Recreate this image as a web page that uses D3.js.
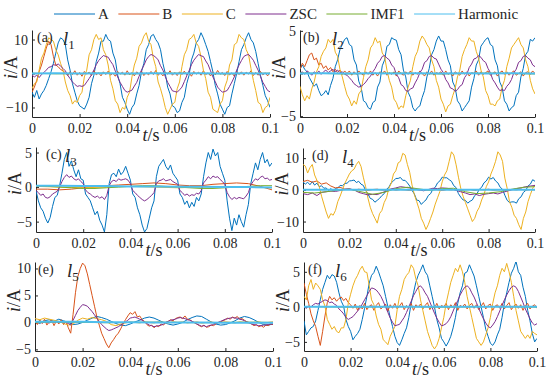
<!DOCTYPE html>
<html>
<head>
<meta charset="utf-8">
<script src="https://cdn.jsdelivr.net/npm/d3@7"></script>
<style>
  body { margin: 0; background: #fff; }
  svg { display: block; font-family: 'Liberation Serif', 'Times New Roman', 'DejaVu Serif', serif; }
</style>
</head>
<body>
<script>
var WIDTH  = 550;
var HEIGHT = 384;
var T_END  = 0.1;

var seriesNames  = ['A', 'B', 'C', 'ZSC', 'IMF1', 'Harmonic'];
var seriesColors = ['#0072bd', '#d95319', '#edb120', '#7e2f8e', '#77ac30', '#4dbeee'];
var timeTicks    = [0, 0.02, 0.04, 0.06, 0.08, 0.1];

// each series is sampled evenly over 0..0.1 s (101 points = 1 ms step)

// ---- (a) l1
var a_A = [
  -5.5, -7.0, -5.0, -7.5, -6.0, -5.0, -3.5, -1.5, 0.5, 3.0,
  6.0, 9.0, 10.5, 10.0, 8.5, 4.0, 1.0, -3.0, -5.5, -8.0,
  -9.5, -10.0, -10.5, -9.0, -7.0, -3.0, -0.5, 3.5, 6.0, 9.5,
  9.5, 11.5, 10.0, 9.5, 6.0, 4.0, -0.5, -3.0, -7.0, -8.5,
  -10.5, -12.0, -10.0, -9.0, -6.0, -3.5, 0.5, 3.0, 7.0, 8.5,
  11.0, 11.5, 10.0, 9.0, 7.0, 3.0, 0.0, -4.0, -6.0, -9.5,
  -10.0, -11.5, -11.0, -8.5, -7.0, -3.0, -0.5, 4.0, 6.0, 9.0,
  10.0, 12.0, 10.5, 8.5, 6.5, 3.5, 0.5, -3.5, -6.0, -9.0,
  -10.5, -12.0, -10.0, -9.5, -6.0, -3.0, 0.0, 3.5, 7.0, 8.5,
  10.5, 12.0, 10.0, 9.0, 6.5, 3.0, -0.5, -3.5, -6.5, -8.0,
  -10.0];
var a_B = [
  -5.5, -4.0, -2.0, 0.5, 2.5, 5.0, 7.5, 9.5, 8.5, 5.0,
  2.5, 2.0, 1.2, 0.8, 0.2, -0.6, 0.5, -0.3, 0.8, -0.5,
  0.3, -0.8, 0.6, -0.2, 0.4, -0.6, 0.9, -0.4, 0.2, -0.7,
  0.5, -0.3, 0.7, -0.5, 0.1, -0.8, 0.6, -0.2, 0.4, -0.5,
  0.8, -0.4, 0.3, -0.7, 0.5, -0.2, 0.7, -0.6, 0.2, -0.4,
  0.6, -0.3, 0.9, -0.5, 0.2, -0.7, 0.4, -0.2, 0.8, -0.5,
  0.3, -0.6, 0.5, -0.3, 0.7, -0.4, 0.2, -0.8, 0.6, -0.2,
  0.4, -0.5, 0.8, -0.3, 0.2, -0.7, 0.5, -0.4, 0.9, -0.2,
  0.3, -0.6, 0.6, -0.4, 0.2, -0.8, 0.7, -0.3, 0.5, -0.5,
  0.4, -0.2, 0.8, -0.6, 0.3, -0.5, 0.6, -0.4, 0.2, -0.7,
  0.3];
var a_C = [
  -4.5, -3.0, -2.5, 1.0, 4.5, 6.0, 8.5, 10.5, 10.0, 9.5,
  7.0, 5.5, 3.0, 1.0, -2.5, -5.0, -6.5, -9.0, -8.0, -8.5,
  -6.5, -5.5, -1.0, 1.0, 5.5, 7.0, 10.0, 11.5, 10.0, 10.5,
  7.0, 5.5, 2.5, -2.0, -4.5, -8.0, -9.0, -11.5, -10.0, -10.5,
  -7.0, -5.5, -1.0, 2.5, 4.5, 8.0, 9.0, 11.0, 12.0, 9.5,
  8.5, 4.5, 2.0, -2.5, -4.5, -7.0, -10.0, -12.0, -10.5, -9.0,
  -8.5, -4.5, -2.5, 2.0, 5.5, 7.0, 10.0, 10.5, 11.5, 9.0,
  8.0, 5.0, 1.0, -1.5, -5.5, -7.0, -10.5, -11.0, -11.5, -9.0,
  -8.0, -4.0, -2.0, 2.5, 4.0, 8.5, 9.0, 11.5, 10.5, 10.0,
  7.0, 5.5, 1.5, -2.0, -5.0, -8.5, -9.0, -11.5, -10.0, -9.5,
  -7.0];
var a_ZSC = [
  -0.5, -1.0, -0.5, -1.2, -0.3, 0.3, 1.0, 1.8, 2.0, 2.6,
  2.4, 2.8, 2.2, 1.5, 0.8, -0.5, -1.5, -2.5, -3.2, -3.8,
  -3.6, -3.8, -3.5, -2.5, -1.5, -0.4, 1.0, 2.6, 3.8, 4.6,
  5.3, 5.0, 4.8, 3.6, 2.6, 0.7, -1.0, -2.6, -3.8, -5.0,
  -5.5, -5.2, -4.9, -3.7, -2.6, -0.8, 1.0, 2.4, 4.0, 5.0,
  5.6, 5.3, 4.8, 4.0, 2.3, 1.0, -0.9, -2.6, -3.8, -5.1,
  -5.3, -5.5, -4.8, -4.0, -2.4, -0.7, 0.8, 2.6, 3.9, 4.8,
  5.6, 5.2, 5.0, 3.7, 2.6, 0.8, -1.0, -2.4, -4.0, -4.8,
  -5.5, -5.3, -5.0, -3.8, -2.5, -1.0, 1.0, 2.5, 3.8, 5.0,
  5.4, 5.6, 4.8, 3.9, 2.4, 1.0, -0.9, -2.6, -3.8, -5.0,
  -5.4];
var a_IMF1 = [0.1, -0.1, 0.0, 0.1, -0.1, 0.0, 0.1, 0.0, -0.1, 0.0, 0.1];
var a_Harm = [0.0, 0.05, 0.0, 0.05, 0.0, 0.05, 0.0, 0.05, 0.0, 0.05, 0.0];

// ---- (b) l2
var b_A = [
  0.5, 1.0, 0.5, 0.2, -0.5, -1.0, -1.5, -1.2, -2.0, -2.6,
  -2.4, -2.0, -2.5, -1.4, -0.6, 0.8, 1.6, 2.8, 3.4, 4.0,
  4.2, 3.4, 3.2, 1.6, 1.0, -0.9, -1.6, -3.2, -3.4, -4.0,
  -4.2, -3.4, -3.2, -1.6, -1.0, 0.9, 1.6, 3.2, 3.4, 4.2,
  4.0, 3.9, 2.8, 2.2, 0.4, -0.4, -2.2, -2.8, -4.0, -4.4,
  -4.0, -3.8, -2.8, -2.0, -0.4, 0.6, 2.2, 2.8, 3.8, 4.4,
  3.8, 3.8, 2.8, 1.6, 0.9, -1.0, -1.6, -3.2, -3.6, -4.4,
  -4.0, -3.6, -3.2, -1.6, -0.6, 1.0, 1.6, 3.2, 3.6, 4.0,
  4.2, 3.4, 3.2, 1.6, 0.9, -1.0, -1.6, -3.2, -3.6, -4.4,
  -4.0, -3.8, -2.6, -2.2, -0.4, 0.6, 2.2, 2.6, 4.0, 3.8,
  4.2];
var b_B = [
  0.5, 1.2, 0.8, 1.5, 2.2, 2.4, 1.6, 1.8, 1.0, 1.2,
  0.6, 0.9, 0.4, 0.7, 0.2, 0.5, 0.1, 0.4, -0.1, 0.3,
  0.0, 0.3, -0.2, 0.2, -0.1, 0.3, 0.0, -0.2, 0.2, -0.1,
  0.3, -0.2, 0.1, -0.3, 0.2, 0.0, 0.3, -0.2, 0.1, -0.1,
  0.2, -0.3, 0.3, 0.0, -0.2, 0.2, -0.1, 0.3, -0.2, 0.1,
  -0.1, 0.3, 0.0, -0.3, 0.2, -0.1, 0.3, -0.2, 0.1, 0.0,
  0.2, -0.2, 0.3, -0.1, 0.1, -0.3, 0.2, 0.0, -0.2, 0.3,
  -0.1, 0.2, -0.3, 0.1, 0.0, 0.3, -0.2, 0.2, -0.1, 0.1,
  0.3, -0.2, 0.0, 0.2, -0.3, 0.1, 0.3, -0.1, 0.2, -0.2,
  0.1, 0.3, -0.2, 0.0, 0.2, -0.3, 0.1, 0.2, -0.1, 0.3,
  0.0];
var b_C = [
  -1.5, -2.5, -3.2, -2.6, -3.0, -1.8, -1.0, 0.2, 0.8, 2.0,
  2.6, 3.0, 4.0, 3.6, 4.0, 2.5, 2.0, 0.5, -0.4, -1.5,
  -2.5, -3.0, -3.8, -3.2, -3.6, -2.4, -2.0, -0.5, 0.8, 1.6,
  3.0, 3.4, 4.2, 3.6, 3.8, 2.4, 2.0, 0.4, -0.8, -1.6,
  -3.0, -3.4, -4.2, -3.8, -4.0, -2.6, -1.6, -0.8, 0.8, 2.0,
  2.6, 3.8, 4.4, 4.0, 3.4, 3.0, 1.6, 0.8, -0.8, -1.6,
  -3.0, -3.6, -4.5, -3.8, -3.6, -2.6, -1.8, -0.4, 0.4, 2.0,
  2.8, 3.4, 4.2, 3.8, 3.8, 2.6, 1.8, 0.4, -0.4, -2.0,
  -2.6, -3.6, -3.6, -3.8, -3.2, -3.0, -1.6, -0.8, 0.8, 1.8,
  3.0, 3.4, 3.8, 4.2, 3.4, 3.0, 1.6, 0.8, -0.8, -1.8,
  -2.4];
var b_ZSC = [
  0.0, 0.2, -0.1, 0.3, 0.1, -0.2, 0.2, 0.0, 0.3, -0.1,
  0.2, 0.4, 0.1, 0.3, 0.5, 0.2, 0.4, 0.1, 0.2, -0.1,
  -0.2, -0.5, -0.8, -1.2, -1.4, -1.6, -1.5, -1.3, -1.0, -0.6,
  -0.3, 0.2, 0.6, 1.2, 1.5, 2.0, 2.1, 1.8, 1.6, 1.0,
  0.7, -0.1, -0.5, -1.3, -1.5, -2.0, -2.1, -1.8, -1.7, -1.1,
  -0.6, 0.1, 0.5, 1.3, 1.5, 2.0, 2.1, 1.8, 1.7, 1.1,
  0.5, 0.1, -0.7, -1.1, -1.7, -1.8, -2.1, -1.9, -1.5, -1.3,
  -0.5, -0.1, 0.7, 1.1, 1.7, 1.8, 2.1, 1.9, 1.5, 1.3,
  0.6, 0.1, -0.7, -1.1, -1.6, -2.0, -1.9, -2.0, -1.5, -1.2,
  -0.7, 0.1, 0.5, 1.3, 1.5, 2.0, 2.1, 1.8, 1.6, 1.0,
  0.8];
var b_IMF1 = [0.05, 0.0, -0.05, 0.0, 0.05, 0.0, -0.05, 0.0, 0.05, 0.0, -0.05];
var b_Harm = [0.0, 0.03, 0.0, 0.03, 0.0, 0.03, 0.0, 0.03, 0.0, 0.03, 0.0];

// ---- (c) l3
var c_A = [
  -0.5, -2.0, -3.0, -3.5, -4.5, -5.2, -4.4, -2.8, -1.5, -1.2,
  0.2, 2.0, 4.0, 5.0, 3.0, 3.8, 2.5, 1.5, 2.5, 1.2,
  1.0, -1.0, -1.5, -2.0, -3.0, -4.0, -3.5, -4.8, -5.5, -6.5,
  -4.0, 0.5, 1.8, 2.0, 1.5, 2.6, 1.8, 2.2, 3.0, 2.0,
  1.0, -1.0, -1.5, -3.0, -4.0, -5.5, -6.5, -6.0, -4.5, -3.0,
  -2.0, 1.5, 3.0, 3.5, 4.0, 3.0, 2.5, 3.2, 2.0, 1.5,
  1.0, -1.0, -1.5, -2.5, -2.0, -3.0, -2.2, -2.8, -1.5, -2.0,
  -1.0, 1.5, 3.5, 5.0, 4.0, 5.5, 4.5, 5.0, 3.0, 2.0,
  1.0, -2.0, -4.5, -6.3, -4.5, -5.5, -4.0, -5.0, -5.8, -4.0,
  -2.5, 0.5, 2.0, 3.5, 2.5, 4.0, 5.0, 3.5, 4.0, 3.0,
  3.5];
var c_B = [-0.3, -0.3, -0.4, -0.3, -0.1, 0.1, 0.2, 0.3, 0.4, 0.5, 0.6,
           0.5, 0.3, 0.2, 0.2, 0.4, 0.5, 0.6, 0.5, 0.1, -0.4];
var c_C = [0.1, 0.0, -0.1, 0.0, 0.1, 0.0, -0.1, 0.0, 0.1, 0.0, -0.1];
var c_ZSC = [
  -0.5, -0.8, -1.2, -1.0, -1.5, -1.6, -1.4, -1.0, -0.8, -0.6,
  0.0, 0.8, 1.4, 1.8, 1.4, 1.6, 1.2, 1.0, 1.2, 0.8,
  0.5, -0.4, -0.8, -1.0, -1.3, -1.5, -1.3, -1.6, -1.4, -1.8,
  -1.2, 0.2, 0.8, 1.0, 0.8, 1.2, 1.0, 1.1, 1.2, 1.0,
  0.5, -0.5, -0.8, -1.2, -1.5, -1.8, -2.0, -1.8, -1.5, -1.2,
  -0.8, 0.5, 0.9, 1.0, 1.2, 0.9, 1.0, 1.1, 0.8, 0.6,
  0.4, -0.5, -0.8, -1.2, -1.0, -1.3, -1.1, -1.2, -0.9, -1.0,
  -0.5, 0.6, 1.0, 1.5, 1.2, 1.6, 1.4, 1.5, 1.1, 0.8,
  0.4, -0.8, -1.4, -1.8, -1.5, -1.7, -1.5, -1.6, -1.7, -1.3,
  -0.8, 0.3, 0.8, 1.2, 1.0, 1.4, 1.6, 1.2, 1.3, 1.0,
  1.1];
var c_IMF1 = [0.2, 0.1, 0.0, -0.1, -0.2, -0.2, -0.1, 0.0, 0.1, 0.2, 0.2,
              0.1, 0.0, -0.1, -0.2, -0.2, -0.1, 0.0, 0.1, 0.2, 0.2];
var c_Harm = [0.2, 0.2, 0.15, 0.15, 0.1, 0.1, 0.05, 0.05, 0.0, 0.0, -0.05];

// ---- (d) l4
var d_A = [
  2.5, 1.8, 2.4, 1.6, 2.6, 1.5, 2.1, 1.0, 1.3, 0.5,
  0.6, -0.2, 0.4, -0.3, 0.5, 0.6, 1.4, 1.3, 2.0, 2.1,
  2.8, 2.9, 3.1, 2.3, 2.7, 1.8, 1.4, -0.2, -1.3, -2.7,
  -3.0, -3.9, -3.3, -2.7, -1.8, -1.2, 0.2, 0.8, 2.2, 2.8,
  3.6, 3.6, 3.9, 3.0, 3.0, 2.2, 1.2, -0.2, -1.3, -3.2,
  -3.4, -4.6, -3.8, -3.2, -1.8, -1.2, 0.2, 0.8, 2.2, 2.8,
  4.0, 3.8, 3.8, 3.2, 2.7, 1.3, 0.7, -1.2, -2.3, -3.2,
  -3.3, -4.2, -3.6, -3.2, -1.8, -1.2, 0.2, 0.8, 2.2, 2.8,
  4.0, 3.4, 3.9, 2.8, 2.2, 0.8, 0.2, -1.7, -3.3, -4.0,
  -3.8, -3.8, -4.2, -2.8, -2.2, -0.8, -0.2, 1.2, 1.8, 3.2,
  2.7];
var d_B = [
  2.6, 3.0, 2.4, 2.8, 1.8, 2.2, 1.2, 0.6, 0.8, 0.2,
  0.3, -0.1, 0.2, 0.0, -0.2, 0.1, 0.2, -0.1, 0.0, 0.2,
  -0.1, 0.1, 0.0, -0.2, 0.2, 0.0, 0.1, -0.1, 0.2, 0.0,
  -0.2, 0.1, 0.0, 0.2, -0.1, 0.0, 0.1, -0.2, 0.1, 0.0,
  0.2, -0.1, 0.0, 0.1, -0.2, 0.1, 0.0, 0.2, -0.1, 0.1,
  0.0];
var d_C = [
  8.0, 7.5, 5.3, 7.0, 8.0, 4.7, 3.0, 1.0, -2.0, -4.5,
  -7.0, -9.0, -7.5, -8.0, -6.5, -3.7, -2.0, 0.0, 2.0, 3.5,
  5.0, 6.0, 6.5, 8.0, 9.0, 7.4, 4.0, 1.0, -2.6, -5.5,
  -7.5, -9.0, -10.5, -7.5, -6.5, -4.0, -2.5, 0.5, 2.0, 5.0,
  6.0, 8.5, 9.0, 11.5, 11.0, 8.0, 5.5, 1.5, -1.5, -3.7,
  -6.0, -9.0, -10.5, -12.5, -11.0, -9.0, -7.0, -4.5, -2.5, -0.5,
  2.5, 4.7, 6.0, 9.0, 12.0, 11.0, 7.9, 4.0, 0.5, -2.0,
  -4.0, -6.0, -8.0, -10.0, -9.0, -6.8, -5.5, -3.2, -1.5, 1.0,
  2.5, 5.0, 6.8, 9.0, 12.0, 11.0, 9.0, 3.7, 0.5, -3.7,
  -5.5, -8.0, -9.0, -11.0, -12.5, -9.0, -7.0, -3.7, -1.5, 0.5,
  1.6];
var d_ZSC = [
  -1.2, -1.5, -1.0, -1.8, -0.8, -0.6, -0.4, -0.5, -0.2, 0.2,
  0.3, 0.0, -0.8, -1.2, -1.6, -1.4, -1.5, -0.9, -0.4, 0.3,
  0.6, 1.0, 0.8, 0.6, 0.2, 0.0, -0.3, 0.1, 0.5, 0.4,
  0.6, 0.5, 0.3, -0.2, -0.6, -1.0, -1.5, -1.3, -1.8, -1.4,
  -1.2, -1.0, -1.3, -0.8, -0.4, 0.0, 0.4, 0.6, 1.0, 1.2,
  1.4];
var d_IMF1 = [-0.8, -1.0, -0.6, -0.1, 0.2, -0.6, -1.4, -0.8, 0.4, 0.8, 0.3,
              -0.2, 0.4, 0.5, -0.6, -1.2, -1.0, -0.6, 0.2, 0.8, 1.0];
var d_Harm = [0.0, 0.05, 0.0, 0.05, 0.0, 0.05, 0.0, 0.05, 0.0, 0.05, 0.0];

// ---- (e) l5
var e_A = [
  0.2, -0.2, 0.3, 0.5, 0.2, 0.6, 0.3, 0.0, -0.4, -0.3,
  0.0, 0.4, 0.8, 1.1, 0.9, 0.6, 0.2, -0.2, -0.5, -0.6,
  -0.3, 0.1, 0.4, 0.8, 1.0, 0.8, 0.4, 0.0, -0.3, -0.5,
  -0.3, 0.0, 0.5, 0.9, 1.2, 1.1, 0.6, 0.1, -0.3, -0.5,
  -0.4, -0.1, 0.3, 0.8, 1.1, 0.9, 0.5, 0.0, -0.4, -0.5,
  -0.3];
var e_B = [
  0.3, -0.4, 0.5, -0.2, 0.6, -0.5, 0.2, 0.4, -0.6, 0.3,
  -0.3, 0.5, -0.4, 0.2, -1.0, -2.0, 1.5, 5.5, 8.5, 10.0,
  11.0, 10.5, 9.0, 7.0, 5.0, 3.0, 1.0, -0.5, -2.0, -3.0,
  -4.0, -4.7, -3.8, -3.2, -2.5, -2.0, -1.2, -0.3, 0.5, 1.2,
  1.8, 1.5, 2.0, 1.0, 1.2, 0.5, 0.2, -0.4, -0.7, -0.5,
  -1.0, -0.6, -0.8, -0.3, -0.5, 0.0, 0.2, 0.5, 0.3, 0.7,
  0.9, 1.0, 0.7, 1.2, 0.6, 0.5, 0.2, -0.1, -0.3, -0.6,
  -0.8, -0.5, -0.9, -0.8, -0.5, -0.6, -0.3, 0.0, 0.1, 0.3,
  0.5, 0.8, 0.6, 1.0, 0.8, 1.1, 0.6, 0.7, 0.4, 0.1,
  0.0, -0.3, -0.6, -0.4, -0.8, -0.6, -0.9, -0.5, -0.6, -0.3,
  -0.4];
var e_C = [
  0.7, 0.5, 0.8, 0.6, 0.4, 0.2, -0.2, -0.5, -0.3, 0.4,
  0.8, 0.6, 0.9, 0.7, 0.5, 0.2, -0.4, -0.6, -0.3, -0.1,
  0.1, 0.0, -0.1, 0.1, 0.0, -0.1, 0.1, 0.0, -0.1, 0.1,
  0.0, 0.1, -0.1, 0.0, 0.1, -0.1, 0.0, 0.1, -0.1, 0.0,
  0.1, 0.0, -0.1, 0.1, 0.0, -0.1, 0.0, 0.1, -0.1, 0.0,
  0.1];
var e_ZSC = [
  0.1, 0.0, 0.2, -0.1, 0.1, 0.0, -0.1, 0.1, 0.0, 0.1,
  0.0, 0.1, -0.1, 0.0, -0.2, -0.5, 0.4, 1.3, 2.2, 2.8,
  3.3, 3.2, 3.0, 2.5, 2.0, 1.4, 0.8, 0.2, -0.4, -0.8,
  -1.2, -1.5, -1.4, -1.2, -1.0, -0.8, -0.5, -0.2, 0.1, 0.4,
  0.8, 0.9, 1.0, 0.8, 0.6, 0.4, 0.1, -0.2, -0.5, -0.6,
  -0.8, -0.7, -0.6, -0.5, -0.3, 0.0, 0.2, 0.4, 0.5, 0.6,
  0.8, 0.9, 0.8, 0.7, 0.5, 0.4, 0.2, 0.0, -0.3, -0.5,
  -0.7, -0.6, -0.8, -0.6, -0.5, -0.4, -0.2, 0.0, 0.2, 0.4,
  0.6, 0.7, 0.8, 0.9, 0.8, 0.8, 0.6, 0.5, 0.3, 0.1,
  -0.1, -0.3, -0.4, -0.5, -0.6, -0.6, -0.5, -0.5, -0.4, -0.3,
  -0.3];
var e_IMF1 = [0.0, 0.05, 0.0, -0.05, 0.0, 0.05, 0.0, -0.05, 0.0, 0.05, 0.0];
var e_Harm = [0.1, 0.1, 0.1, 0.05, 0.05, 0.0, 0.0, 0.0, -0.05, -0.05, -0.05];

// ---- (f) l6
var f_A = [
  -2.0, -4.0, -3.5, -3.0, -2.8, -2.0, -0.5, 1.0, 2.5, 3.5,
  4.5, 4.0, 4.6, 4.4, 3.5, 2.0, 0.8, 0.1, -1.8, -2.8,
  -3.5, -4.7, -4.2, -3.8, -3.2, -1.8, -0.2, 1.5, 3.4, 4.5,
  4.9, 5.8, 5.0, 4.0, 3.0, 1.5, 0.0, -1.5, -2.8, -4.2,
  -5.1, -5.5, -4.7, -3.8, -3.0, -1.5, 0.5, 2.0, 3.5, 4.5,
  5.2, 6.0, 5.0, 4.5, 3.0, 1.5, 0.0, -1.8, -3.0, -4.5,
  -5.0, -5.6, -5.0, -4.2, -3.0, -1.5, 0.5, 2.0, 3.0, 4.8,
  5.0, 6.0, 5.2, 4.4, 3.0, 1.5, 0.0, -1.5, -3.2, -4.2,
  -5.2, -5.5, -5.0, -4.0, -3.2, -1.5, 0.5, 2.0, 3.5, 4.8,
  5.5, 6.5, 5.0, 4.5, 2.8, 1.5, -0.5, -2.0, -3.8, -5.0,
  -4.5];
var f_B = [
  3.4, 1.8, 0.5, -1.0, -2.0, -2.8, -4.2, -5.5, -3.5, -1.3,
  0.6, 1.5, 1.0, 1.3, 0.8, 1.2, 1.4, 0.9, 1.2, 0.6,
  0.3, -0.2, 0.4, -0.5, 0.2, -0.3, 0.5, -0.4, 0.1, 0.3,
  -0.5, 0.2, 0.6, -0.3, 0.0, 0.4, -0.6, 0.3, -0.2, 0.5,
  -0.3, 0.1, 0.6, -0.4, 0.2, -0.2, 0.5, -0.5, 0.3, 0.0,
  0.4, -0.3, 0.2, 0.6, -0.4, 0.1, -0.2, 0.5, -0.3, 0.2,
  0.0, 0.5, -0.4, 0.3, -0.1, 0.6, -0.5, 0.2, 0.0, 0.4,
  -0.3, 0.2, 0.5, -0.2, 0.3, -0.4, 0.1, 0.6, -0.3, 0.2,
  0.4, -0.5, 0.1, 0.3, -0.2, 0.5, -0.3, 0.2, 0.6, -0.4,
  0.1, 0.4, -0.2, 0.3, -0.5, 0.2, 0.5, -0.3, 0.1, 0.3,
  -0.2];
var f_C = [
  1.5, 1.0, 3.0, 3.9, 2.5, 3.4, 3.0, 2.5, 1.0, 0.1,
  -1.8, -2.5, -3.2, -2.8, -3.5, -3.7, -3.0, -3.0, -1.8, 0.5,
  1.8, 3.0, 3.9, 4.5, 5.3, 5.8, 5.0, 4.9, 3.0, 1.0,
  0.3, -1.3, -2.5, -3.2, -4.7, -5.0, -5.4, -4.2, -3.5, -2.8,
  -0.4, 1.5, 2.5, 3.9, 4.5, 4.9, 6.0, 5.5, 4.0, 3.0,
  1.0, -0.5, -2.0, -3.5, -4.5, -5.5, -6.0, -5.5, -4.5, -3.0,
  -1.5, 0.5, 2.0, 3.5, 4.5, 5.5, 5.0, 6.0, 5.0, 3.5,
  1.5, 0.0, -1.5, -3.0, -4.5, -5.0, -5.5, -5.0, -4.0, -3.0,
  -1.5, 0.5, 2.0, 3.0, 4.5, 5.5, 5.0, 6.2, 5.0, 3.5,
  1.5, -0.5, -2.0, -3.5, -4.0, -4.5, -4.0, -4.5, -3.5, -3.8,
  -4.0];
var f_ZSC = [
  0.0, -0.2, 0.1, 0.0, 0.3, 0.5, 0.4, 0.6, 0.8, 1.0,
  0.9, 0.6, 0.7, 0.4, 0.2, -0.3, -0.6, -1.0, -1.5, -1.8,
  -1.6, -1.4, -1.0, -0.6, -0.2, 0.4, 1.0, 1.6, 2.2, 2.7,
  2.6, 2.4, 2.0, 1.5, 0.8, 0.0, -0.8, -1.6, -2.2, -2.7,
  -2.6, -2.5, -2.0, -1.5, -0.8, 0.0, 0.8, 1.6, 2.2, 2.8,
  3.0, 2.6, 2.0, 1.5, 0.7, -0.1, -0.9, -1.6, -2.2, -2.7,
  -2.6, -2.4, -2.0, -1.4, -0.6, 0.2, 0.9, 1.7, 2.3, 2.8,
  3.0, 2.7, 2.0, 1.4, 0.6, -0.2, -1.0, -1.7, -2.3, -2.8,
  -3.0, -2.6, -2.1, -1.4, -0.6, 0.2, 1.0, 1.7, 2.3, 2.8,
  3.0, 2.8, 2.2, 1.4, 0.6, -0.3, -1.0, -1.7, -2.3, -2.6,
  -2.4];
var f_IMF1 = [0.05, 0.0, -0.05, 0.0, 0.05, 0.0, -0.05, 0.0, 0.05, 0.0, -0.05];
var f_Harm = [0.0, 0.03, 0.0, 0.03, 0.0, 0.03, 0.0, 0.03, 0.0, 0.03, 0.0];

var panels = [
  { tag: '(a)', sub: '1', series: [a_A, a_B, a_C, a_ZSC, a_IMF1, a_Harm],
    yTicks: [-10, 0, 10], yDomain: [-12.8, 12.8],
    x0: 32, x1: 270, y0: 30, y1: 117, tagDx: 5, lDx: 31 },
  { tag: '(b)', sub: '2', series: [b_A, b_B, b_C, b_ZSC, b_IMF1, b_Harm],
    yTicks: [-5, 0, 5], yDomain: [-5.1, 5.1],
    x0: 300, x1: 535, y0: 30, y1: 117, tagDx: 3, lDx: 32 },
  { tag: '(c)', sub: '3', series: [c_A, c_B, c_C, c_ZSC, c_IMF1, c_Harm],
    yTicks: [-5, 0, 5], yDomain: [-6.5, 5.8],
    x0: 36, x1: 272, y0: 147, y1: 232, tagDx: 10, lDx: 29 },
  { tag: '(d)', sub: '4', series: [d_A, d_B, d_C, d_ZSC, d_IMF1, d_Harm],
    yTicks: [-10, 0, 10], yDomain: [-13.3, 13.2],
    x0: 303, x1: 535, y0: 148, y1: 232, tagDx: 9, lDx: 39 },
  { tag: '(e)', sub: '5', series: [e_A, e_B, e_C, e_ZSC, e_IMF1, e_Harm],
    yTicks: [-5, 0, 5, 10], yDomain: [-5.3, 11.2],
    x0: 35, x1: 273, y0: 262, y1: 351, tagDx: 3, lDx: 32 },
  { tag: '(f)', sub: '6', series: [f_A, f_B, f_C, f_ZSC, f_IMF1, f_Harm],
    yTicks: [-5, 0, 5], yDomain: [-6.3, 6.4],
    x0: 304, x1: 537, y0: 262, y1: 351, tagDx: 4, lDx: 31 }
];

var svg = d3.select('body')
            .append('svg')
            .attr('width', WIDTH)
            .attr('height', HEIGHT);

function fmtTime(d) {
  return d === 0 ? '0' : String(+d.toFixed(2));
}

panels.forEach(function(p, k) {
  var x = d3.scaleLinear().domain([0, T_END]).range([p.x0, p.x1]);
  var y = d3.scaleLinear().domain(p.yDomain).range([p.y1, p.y0]);
  var g = svg.append('g');

  g.append('clipPath')
     .attr('id', 'clip' + k)
   .append('rect')
     .attr('x', p.x0).attr('y', p.y0)
     .attr('width', p.x1 - p.x0).attr('height', p.y1 - p.y0);

  var xAxis = g.append('g')
     .attr('transform', 'translate(0,' + p.y1 + ')')
     .call(d3.axisBottom(x).tickValues(timeTicks).tickFormat(fmtTime)
             .tickSize(-3).tickSizeOuter(0).tickPadding(6));
  var yAxis = g.append('g')
     .attr('transform', 'translate(' + p.x0 + ',0)')
     .call(d3.axisLeft(y).tickValues(p.yTicks)
             .tickSize(-3).tickSizeOuter(0).tickPadding(4));
  [xAxis, yAxis].forEach(function(ax) {
    ax.attr('font-family', null).attr('font-size', 14).attr('color', '#262626');
    ax.selectAll('text').attr('fill', '#262626');
  });

  var line = d3.line()
     .x(function(d, i, data) { return x(i * T_END / (data.length - 1)); })
     .y(function(d) { return y(d); });

  g.append('g')
     .attr('clip-path', 'url(#clip' + k + ')')
   .selectAll('path')
     .data(p.series)
     .enter()
   .append('path')
     .attr('d', line)
     .attr('fill', 'none')
     .attr('stroke', function(d, i) { return seriesColors[i]; })
     .attr('stroke-width', function(d, i) { return i === 5 ? 2 : 1; })
     .attr('stroke-linejoin', 'round');

  // y label i/A
  var yl = g.append('text')
     .attr('transform', 'translate(' + (p.x0 - 15) + ',' + ((p.y0 + p.y1) / 2 - 6) + ') rotate(-90)')
     .attr('text-anchor', 'middle')
     .attr('font-size', 18)
     .attr('fill', '#262626');
  yl.append('tspan').attr('font-style', 'italic').text('i');
  yl.append('tspan').text('/A');

  // x label t/s
  var xl = g.append('text')
     .attr('x', (p.x0 + p.x1) / 2)
     .attr('y', p.y1 + 24)
     .attr('text-anchor', 'middle')
     .attr('font-size', 18)
     .attr('fill', '#262626');
  xl.append('tspan').attr('font-style', 'italic').text('t');
  xl.append('tspan').text('/s');

  // panel tag and line name
  g.append('text')
     .attr('x', p.x0 + p.tagDx)
     .attr('y', p.y0 + 12)
     .attr('font-size', 14)
     .attr('fill', '#262626')
     .text(p.tag);
  var ln = g.append('text')
     .attr('x', p.x0 + p.lDx)
     .attr('y', p.y0 + 15)
     .attr('fill', '#262626');
  ln.append('tspan').attr('font-style', 'italic').attr('font-size', 19).text('l');
  ln.append('tspan').attr('font-size', 13).attr('dy', 4).text(p.sub);
});

// legend
var legend = svg.append('g').attr('transform', 'translate(54,14)');
var cursor = 0;
seriesNames.forEach(function(name, i) {
  legend.append('line')
     .attr('x1', cursor).attr('x2', cursor + 41)
     .attr('y1', 0).attr('y2', 0)
     .attr('stroke', seriesColors[i])
     .attr('stroke-width', 1);
  var t = legend.append('text')
     .attr('x', cursor + 44)
     .attr('y', 0)
     .attr('dy', '0.35em')
     .attr('font-size', 15)
     .attr('fill', '#262626')
     .text(name);
  cursor += 44 + t.node().getComputedTextLength() + 9.5;
});
</script>
</body>
</html>
